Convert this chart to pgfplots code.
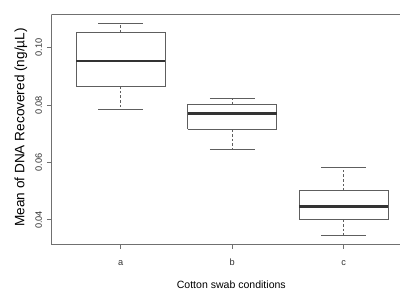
\documentclass[border=0pt]{standalone}
\usepackage{pgfplots}
\pgfplotsset{compat=1.18}
\usepackage{fontspec}
\setmainfont{Liberation Sans}
\definecolor{boxgray}{HTML}{5E5E5E}
\definecolor{axgray}{HTML}{707070}
\begin{document}
\begin{tikzpicture}
\begin{axis}[
  scale only axis,
  width=261.4pt, height=172.2pt,
  xmin=0.379, xmax=3.505,
  ymin=0.0315, ymax=0.1115,
  axis x line*=bottom, axis y line*=left,
  axis line style={axgray, line width=0.7pt, -},
  xtick={1,2,3}, xticklabels={a,b,c},
  ytick={0.04,0.06,0.08,0.10},
  yticklabels={0.04,0.06,0.08,0.10},
  tick align=outside,
  major tick length=3.5pt,
  tick style={axgray, line width=0.6pt},
  ticklabel style={font=\fontsize{6.9}{8}\selectfont, text=black!80},
  xticklabel style={yshift=-1pt, text height=1.5ex, text depth=0.25ex},
  yticklabel style={rotate=90, anchor=south},
  xlabel={Cotton swab conditions},
  ylabel={Mean of DNA Recovered (ng/µL)},
  xlabel style={font=\fontsize{7.9}{9}\selectfont, at={(axis description cs:0.516,-0.176)}, anchor=center},
  ylabel style={font=\fontsize{10.2}{12}\selectfont, at={(axis description cs:-0.0876,0.509)}, anchor=center},
  unbounded coords=jump,
]
% boxes (lower quartile to upper quartile)
\addplot[boxgray, line width=0.75pt, mark=none] coordinates {
  (0.6,0.0866) (1.4,0.0866) (1.4,0.1052) (0.6,0.1052) (0.6,0.0866) (0.6,nan)
  (1.6,0.0715) (2.4,0.0715) (2.4,0.0802) (1.6,0.0802) (1.6,0.0715) (1.6,nan)
  (2.6,0.0402) (3.4,0.0402) (3.4,0.0501) (2.6,0.0501) (2.6,0.0402)
};
% whiskers (dashed)
\addplot[boxgray, line width=0.6pt, dash pattern=on 2pt off 1.5pt, mark=none] coordinates {
  (1,0.1052) (1,0.1085) (1,nan) (1,0.0866) (1,0.0785) (1,nan)
  (2,0.0802) (2,0.0824) (2,nan) (2,0.0715) (2,0.0644) (2,nan)
  (3,0.0501) (3,0.0583) (3,nan) (3,0.0402) (3,0.0345)
};
% whisker caps
\addplot[boxgray, line width=0.75pt, mark=none] coordinates {
  (0.8,0.1085) (1.2,0.1085) (1.2,nan) (0.8,0.0785) (1.2,0.0785) (1.2,nan)
  (1.8,0.0824) (2.2,0.0824) (2.2,nan) (1.8,0.0644) (2.2,0.0644) (2.2,nan)
  (2.8,0.0583) (3.2,0.0583) (3.2,nan) (2.8,0.0345) (3.2,0.0345)
};
% medians
\addplot[black!80, line width=2pt, mark=none] coordinates {
  (0.6,0.0953) (1.4,0.0953) (1.4,nan)
  (1.6,0.0771) (2.4,0.0771) (2.4,nan)
  (2.6,0.0446) (3.4,0.0446)
};
\draw[axgray, line width=0.7pt] (rel axis cs:0,1) -- (rel axis cs:1,1);
\end{axis}
\pgfresetboundingbox
\path ([xshift=-38.6pt,yshift=-33.5pt]current axis.south west) rectangle ([yshift=11pt]current axis.north east);
\end{tikzpicture}
\end{document}
